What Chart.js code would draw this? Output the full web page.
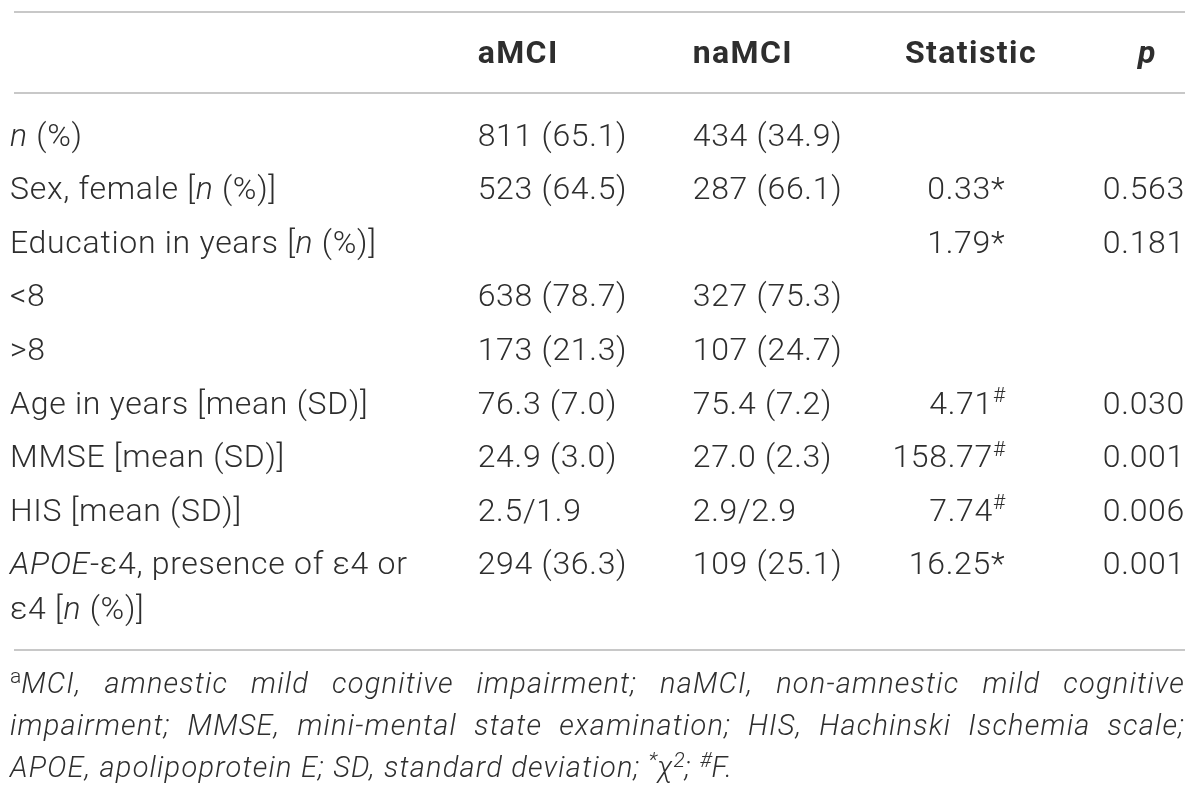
<!DOCTYPE html>
<html>
<head>
<meta charset="utf-8">
<title>aMCI vs naMCI</title>
<script src="https://cdn.jsdelivr.net/npm/chart.js@4/dist/chart.umd.min.js"></script>
<style>
  html, body { margin: 0; padding: 0; background: #fff; }
  #wrap { width: 1200px; height: 800px; }
</style>
</head>
<body>
<div id="wrap"><canvas id="tableChart" width="1200" height="800"></canvas></div>
<script>
// _x_ = italic, ^x^ = superscript
const headers = ['', 'aMCI', 'naMCI', 'Statistic', '_p_'];

const rowLabels = [
    '_n_ (%)',
    'Sex, female [_n_ (%)]',
    'Education in years [_n_ (%)]',
    '<8',
    '>8',
    'Age in years [mean (SD)]',
    'MMSE [mean (SD)]',
    'HIS [mean (SD)]',
    '_APOE_-ε4, presence of ε4 or\nε4 [_n_ (%)]'
];

const amciValues = ['811 (65.1)', '523 (64.5)', '', '638 (78.7)', '173 (21.3)', '76.3 (7.0)', '24.9 (3.0)', '2.5/1.9', '294 (36.3)'];
const namciValues = ['434 (34.9)', '287 (66.1)', '', '327 (75.3)', '107 (24.7)', '75.4 (7.2)', '27.0 (2.3)', '2.9/2.9', '109 (25.1)'];
const statValues = ['', '0.33*', '1.79*', '', '', '4.71^#^', '158.77^#^', '7.74^#^', '16.25*'];
const pValues = ['', '0.563', '0.181', '', '', '0.030', '0.001', '0.006', '0.001'];

const footnoteLines = [
    '^a^_MCI, amnestic mild cognitive impairment; naMCI, non-amnestic mild cognitive_',
    '_impairment; MMSE, mini-mental state examination; HIS, Hachinski Ischemia scale;_',
    '_APOE, apolipoprotein E; SD, standard deviation; ^*^χ^2^; ^#^F._'
];

const FONT = 'Roboto, "Liberation Sans", Arial, sans-serif';
const TEXT_COLOR = '#2e2e2e';
const RULE_COLOR = '#c8c8c8';

function parseRich(str) {
    const runs = [];
    let italic = false, sup = false, buf = '';
    const flush = () => { if (buf) { runs.push({ text: buf, italic, sup }); buf = ''; } };
    for (const ch of str) {
        if (ch === '_') { flush(); italic = !italic; }
        else if (ch === '^') { flush(); sup = !sup; }
        else buf += ch;
    }
    flush();
    return runs;
}

function setFont(ctx, run, st) {
    const s = run.sup ? Math.round(st.size * (st.supScale || 0.66)) : st.size;
    ctx.font = (run.italic ? 'italic ' : '') + st.weight + ' ' + s + 'px ' + FONT;
    ctx.letterSpacing = (run.sup ? 0 : st.spacing) + 'px';
}

function measureRuns(ctx, runs, st) {
    return runs.map(r => { setFont(ctx, r, st); return ctx.measureText(r.text).width; });
}

function drawRuns(ctx, runs, widths, x, y, st) {
    let cx = x;
    runs.forEach((r, i) => {
        setFont(ctx, r, st);
        ctx.fillText(r.text, cx, r.sup ? y - st.size * 0.36 : y);
        cx += widths[i];
    });
}

function drawRich(ctx, str, x, y, align, st) {
    const runs = parseRich(str);
    const widths = measureRuns(ctx, runs, st);
    const total = widths.reduce((a, b) => a + b, 0);
    let start = x;
    if (align === 'right') start = x - total;
    else if (align === 'center') start = x - total / 2;
    drawRuns(ctx, runs, widths, start, y, st);
}

// regel uitvullen tussen left en right
function drawJustified(ctx, str, left, right, y, st, justify) {
    const words = [[]];
    parseRich(str).forEach(r => {
        r.text.split(' ').forEach((part, k) => {
            if (k > 0) words.push([]);
            if (part) words[words.length - 1].push({ text: part, italic: r.italic, sup: r.sup });
        });
    });
    const list = words.filter(w => w.length);
    const wWidths = list.map(w => measureRuns(ctx, w, st));
    const sums = wWidths.map(ws => ws.reduce((a, b) => a + b, 0));
    const natural = sums.reduce((a, b) => a + b, 0);
    setFont(ctx, { italic: true, sup: false }, st);
    let gap = ctx.measureText(' ').width;
    if (justify && list.length > 1) gap = (right - left - natural) / (list.length - 1);
    let cx = left;
    list.forEach((w, i) => {
        drawRuns(ctx, w, wWidths[i], cx, y, st);
        cx += sums[i] + gap;
    });
}

const tablePlugin = {
    id: 'tablePlugin',
    afterDraw(chart) {
        const ctx = chart.ctx;
        const area = chart.chartArea;
        const xs = chart.scales.x;
        const ys = chart.scales.y;
        const body = { size: 32, weight: '300', spacing: 0.7 };
        const head = { size: 32, weight: 'bold', spacing: 1.4 };
        const note = { size: 29, weight: '300', spacing: 1.2, supScale: 0.72 };

        ctx.save();
        ctx.fillStyle = TEXT_COLOR;
        ctx.textBaseline = 'alphabetic';

        // horizontale lijnen
        const rule = (y) => {
            ctx.strokeStyle = RULE_COLOR;
            ctx.lineWidth = 2;
            ctx.beginPath();
            ctx.moveTo(area.left + 4, y);
            ctx.lineTo(area.right, y);
            ctx.stroke();
        };
        rule(area.top - 96);
        rule(area.top - 15);
        rule(area.bottom + 60);

        // kolomkoppen
        const headY = area.top - 45;
        drawRich(ctx, headers[1], xs.getPixelForValue(0.398), headY, 'left', head);
        drawRich(ctx, headers[2], xs.getPixelForValue(0.581), headY, 'left', head);
        drawRich(ctx, headers[3], xs.getPixelForValue(0.874), headY, 'right', head);
        drawRich(ctx, headers[4], xs.getPixelForValue(0.968), headY, 'center', head);

        // rijen
        rowLabels.forEach((label, i) => {
            const y = ys.getPixelForValue(i) + 11;
            label.split('\n').forEach((line, k) => {
                drawRich(ctx, line, xs.getPixelForValue(0), y + k * 45, 'left', body);
            });
            drawRich(ctx, amciValues[i], xs.getPixelForValue(0.398), y, 'left', body);
            drawRich(ctx, namciValues[i], xs.getPixelForValue(0.581), y, 'left', body);
            drawRich(ctx, statValues[i], xs.getPixelForValue(0.847), y, 'right', body);
            drawRich(ctx, pValues[i], xs.getPixelForValue(1), y, 'right', body);
        });

        // voetnoot
        footnoteLines.forEach((line, k) => {
            const y = area.bottom + 103 + k * 42;
            drawJustified(ctx, line, area.left, area.right, y, note, k < footnoteLines.length - 1);
        });
        ctx.restore();
    }
};

new Chart(document.getElementById('tableChart').getContext('2d'), {
    type: 'bar',
    data: { labels: rowLabels, datasets: [] },
    options: {
        responsive: false,
        animation: false,
        indexAxis: 'y',
        devicePixelRatio: 1,
        layout: { padding: { top: 108, bottom: 210, left: 10, right: 15 } },
        plugins: { legend: { display: false }, tooltip: { enabled: false } },
        scales: {
            y: { type: 'category', offset: true, display: false },
            x: { type: 'linear', min: 0, max: 1, display: false }
        }
    },
    plugins: [tablePlugin]
});
</script>
</body>
</html>
